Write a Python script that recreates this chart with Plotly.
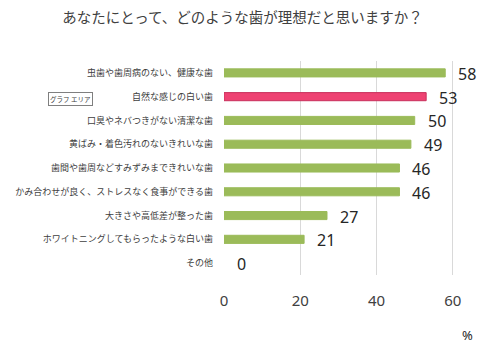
import plotly.graph_objects as go

categories = [
    "虫歯や歯周病のない、健康な歯",
    "自然な感じの白い歯",
    "口臭やネバつきがない清潔な歯",
    "黄ばみ・着色汚れのないきれいな歯",
    "歯間や歯周などすみずみまできれいな歯",
    "かみ合わせが良く、ストレスなく食事ができる歯",
    "大きさや高低差が整った歯",
    "ホワイトニングしてもらったような白い歯",
    "その他",
]
values = [58, 53, 50, 49, 46, 46, 27, 21, 0]
highlight = "自然な感じの白い歯"
tick_values = [0, 20, 40, 60]

GREEN = "#9BBB59"
PINK = "#EE4272"
colors = [PINK if c == highlight else GREEN for c in categories]
line_colors = ["#C8305C" if c == highlight else GREEN for c in categories]
line_widths = [1 if v > 0 else 0 for v in values]

font_family = "Noto Sans CJK JP, Noto Sans, sans-serif"

fig = go.Figure(
    go.Bar(
        x=values,
        y=categories,
        orientation="h",
        marker=dict(color=colors, line=dict(color=line_colors, width=line_widths)),
        width=0.34,
        hoverinfo="skip",
    )
)

for c, v in zip(categories, values):
    fig.add_annotation(
        x=v, y=c, text=str(v), showarrow=False, xanchor="left", xshift=11, yshift=-1,
        font=dict(size=16, color="#262626", family="Noto Sans, sans-serif"),
    )

L, R, T, B = 224, 9, 61, 72

fig.update_layout(
    width=500, height=347,
    margin=dict(l=L, r=R, t=T, b=B),
    paper_bgcolor="white", plot_bgcolor="white",
    showlegend=False,
    font=dict(family=font_family, color="#404040"),
    title=dict(
        text="あなたにとって、どのような歯が理想だと思いますか？",
        x=0.485, xanchor="center", y=0.947, yanchor="middle",
        font=dict(size=14.5, color="#404040", family=font_family),
    ),
    xaxis=dict(
        range=[0, 70], tickvals=tick_values, showgrid=True, gridcolor="#D9D9D9",
        gridwidth=1, zeroline=False, showline=False, ticks="",
        tickfont=dict(size=15, color="#404040", family="Noto Sans, sans-serif"),
        ticklabelstandoff=15, fixedrange=True,
    ),
    yaxis=dict(
        categoryorder="array", categoryarray=categories[::-1],
        autorange=False, range=[-0.5, len(categories) - 0.5],
        showgrid=False, zeroline=False, showline=False, ticks="",
        tickfont=dict(size=9, color="#404040", family=font_family),
        ticklabelstandoff=10, fixedrange=True,
    ),
)

pw = 500 - L - R
ph = 347 - T - B

fig.add_annotation(
    xref="paper", yref="paper", x=(467 - L) / pw, y=(347 - B - 335) / ph,
    text="%", showarrow=False, xanchor="center", yanchor="middle",
    font=dict(size=13, color="#262626", family="Noto Sans, sans-serif"),
)

fig.add_annotation(
    xref="paper", yref="paper", x=(48 - L) / pw, y=(347 - B - 99) / ph,
    text="グラフ エリア", showarrow=False, xanchor="left", yanchor="middle",
    bordercolor="#7F7F7F", borderwidth=1, borderpad=1, bgcolor="white",
    font=dict(size=6.5, color="#404040", family=font_family),
)

fig.write_html("out.html")
